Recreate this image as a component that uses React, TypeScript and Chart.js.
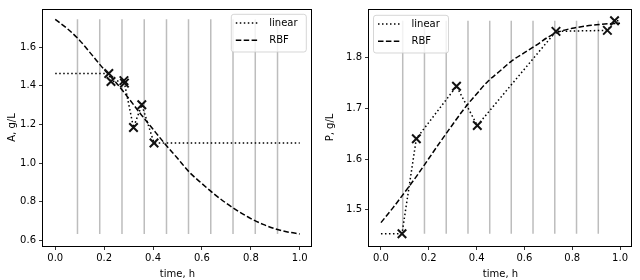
import React, { useEffect, useRef } from "react";
import { Chart, registerables } from "chart.js";

Chart.register(...registerables);
Chart.defaults.font.family = "'DejaVu Sans', sans-serif";
Chart.defaults.font.size = 10;
Chart.defaults.color = "#000";

// ---- shared data ----
const timeGrid = [0, 0.05, 0.1, 0.15, 0.2, 0.25, 0.3, 0.35, 0.4, 0.45, 0.5, 0.55, 0.6, 0.65, 0.7, 0.75, 0.8, 0.85, 0.9, 0.95, 1.0];
const knotTimes = [0.091, 0.182, 0.273, 0.364, 0.455, 0.545, 0.636, 0.727, 0.818, 0.909];
const xTicks = [0, 0.2, 0.4, 0.6, 0.8, 1.0];

// ---- panel A ----
const rbfA = [1.744, 1.695, 1.635, 1.56, 1.484, 1.415, 1.336, 1.253, 1.175, 1.098, 1.025, 0.951, 0.894, 0.84, 0.792, 0.75, 0.713, 0.683, 0.66, 0.644, 0.633];
const obsTimeA = [0.219, 0.228, 0.281, 0.283, 0.32, 0.354, 0.404];
const obsA = [1.464, 1.422, 1.427, 1.414, 1.184, 1.302, 1.104];
const knotRangeA = [0.633, 1.744];
const yTicksA = [0.6, 0.8, 1.0, 1.2, 1.4, 1.6];

// ---- panel P ----
const rbfP = [1.475, 1.504, 1.535, 1.567, 1.601, 1.635, 1.668, 1.7, 1.728, 1.754, 1.774, 1.794, 1.809, 1.824, 1.84, 1.851, 1.857, 1.861, 1.864, 1.866, 1.867];
const obsTimeP = [0.088, 0.148, 0.316, 0.403, 0.732, 0.947, 0.977];
const obsP = [1.453, 1.64, 1.743, 1.666, 1.851, 1.853, 1.872];
const knotRangeP = [1.453, 1.872];
const yTicksP = [1.5, 1.6, 1.7, 1.8];

const seriesLabels = ["linear", "RBF"];

type PanelProps = {
  rbf: number[];
  obsTime: number[];
  obs: number[];
  knotRange: number[];
  yTicks: number[];
  yMin: number;
  yMax: number;
  yLabel: string;
  yAxisWidth: number;
  yTitlePad: number;
  padTop: number;
  padRight: number;
  legendCorner: "left" | "right";
  legendDx: number;
  legendDy: number;
};

function Panel(p: PanelProps) {
  const ref = useRef<HTMLCanvasElement | null>(null);
  useEffect(() => {
    if (!ref.current) return;
    const obsPts = p.obsTime.map((t, i) => ({ x: t, y: p.obs[i] }));
    const linPts = [
      { x: timeGrid[0], y: p.obs[0] },
      ...obsPts,
      { x: timeGrid[timeGrid.length - 1], y: p.obs[p.obs.length - 1] },
    ];
    const rbfPts = timeGrid.map((t, i) => ({ x: t, y: p.rbf[i] }));
    const knotPts: { x: number; y: number | null }[] = [];
    knotTimes.forEach((t) => {
      knotPts.push({ x: t, y: p.knotRange[0] });
      knotPts.push({ x: t, y: p.knotRange[1] });
      knotPts.push({ x: t, y: null });
    });

    const framePlugin = {
      id: "frame",
      afterDatasetsDraw(chart: any) {
        const { ctx, chartArea: a } = chart;
        ctx.save();
        ctx.strokeStyle = "#000";
        ctx.lineWidth = 1;
        ctx.strokeRect(Math.round(a.left) - 0.5, Math.round(a.top) + 0.5, Math.round(a.right - a.left), Math.round(a.bottom - a.top));
        ctx.restore();
      },
    };

    const legendPlugin = {
      id: "mplLegend",
      afterDatasetsDraw(chart: any) {
        const { ctx, chartArea: a } = chart;
        const w = 75;
        const h = 37.7;
        const x0 = p.legendCorner === "right" ? a.right - p.legendDx - w : a.left + p.legendDx;
        const y0 = a.top + p.legendDy;
        ctx.save();
        ctx.beginPath();
        const r = 2.5;
        ctx.moveTo(x0 + r, y0);
        ctx.lineTo(x0 + w - r, y0);
        ctx.quadraticCurveTo(x0 + w, y0, x0 + w, y0 + r);
        ctx.lineTo(x0 + w, y0 + h - r);
        ctx.quadraticCurveTo(x0 + w, y0 + h, x0 + w - r, y0 + h);
        ctx.lineTo(x0 + r, y0 + h);
        ctx.quadraticCurveTo(x0, y0 + h, x0, y0 + h - r);
        ctx.lineTo(x0, y0 + r);
        ctx.quadraticCurveTo(x0, y0, x0 + r, y0);
        ctx.closePath();
        ctx.fillStyle = "rgba(255,255,255,0.8)";
        ctx.fill();
        ctx.strokeStyle = "rgba(204,204,204,0.8)";
        ctx.lineWidth = 1;
        ctx.stroke();
        const rows = [8.7, 26];
        seriesLabels.forEach((lab, i) => {
          const ds = chart.data.datasets.find((d: any) => d.label === lab);
          const y = y0 + rows[i];
          ctx.beginPath();
          ctx.setLineDash(ds.borderDash || []);
          ctx.lineWidth = 1.5;
          ctx.strokeStyle = "#000";
          ctx.moveTo(x0 + 4.5, y);
          ctx.lineTo(x0 + 27.5, y);
          ctx.stroke();
          ctx.setLineDash([]);
          ctx.fillStyle = "#000";
          ctx.font = "10px 'DejaVu Sans', sans-serif";
          ctx.textBaseline = "middle";
          ctx.textAlign = "left";
          ctx.fillText(lab, x0 + 38, y);
        });
        ctx.restore();
      },
    };

    const chart = new Chart(ref.current, {
      type: "line",
      data: {
        datasets: [
          {
            label: "obs",
            data: obsPts,
            showLine: false,
            pointStyle: "crossRot",
            pointRadius: 6,
            pointBorderWidth: 2,
            borderColor: "#111",
            backgroundColor: "#111",
          } as any,
          {
            label: "linear",
            data: linPts,
            borderColor: "#000",
            borderWidth: 1.5,
            borderDash: [1.5, 2.5],
            pointRadius: 0,
            tension: 0,
            fill: false,
          },
          {
            label: "RBF",
            data: rbfPts,
            borderColor: "#000",
            borderWidth: 1.5,
            borderDash: [5.5, 2.4],
            pointRadius: 0,
            cubicInterpolationMode: "monotone",
            fill: false,
          },
          {
            label: "knots",
            data: knotPts as any,
            borderColor: "#bdbdbd",
            borderWidth: 1.5,
            pointRadius: 0,
            spanGaps: false,
            fill: false,
          },
        ],
      },
      options: {
        animation: false,
        responsive: false,
        devicePixelRatio: 1,
        layout: { padding: { top: p.padTop, right: p.padRight, left: 0, bottom: 0 } },
        plugins: { legend: { display: false }, tooltip: { enabled: false } },
        scales: {
          x: {
            type: "linear",
            min: -0.05,
            max: 1.05,
            afterBuildTicks: (s: any) => {
              s.ticks = xTicks.map((v) => ({ value: v }));
            },
            afterFit: (s: any) => {
              s.height = 34;
            },
            ticks: {
              callback: (v: any) => Number(v).toFixed(1),
              color: "#000",
              font: { size: 10 },
              padding: 2,
              maxRotation: 0,
              autoSkip: false,
            },
            grid: { display: true, drawOnChartArea: false, drawTicks: true, tickLength: 4, color: "#000", lineWidth: 0.8 },
            border: { display: false },
            title: { display: true, text: "time, h", color: "#000", font: { size: 10 }, padding: { top: 0, bottom: 0 } },
          },
          y: {
            type: "linear",
            min: p.yMin,
            max: p.yMax,
            afterBuildTicks: (s: any) => {
              s.ticks = p.yTicks.map((v) => ({ value: v }));
            },
            afterFit: (s: any) => {
              s.width = p.yAxisWidth;
            },
            ticks: {
              callback: (v: any) => Number(v).toFixed(1),
              color: "#000",
              font: { size: 10 },
              padding: 3,
              autoSkip: false,
            },
            grid: { display: true, drawOnChartArea: false, drawTicks: true, tickLength: 4, color: "#000", lineWidth: 0.8 },
            border: { display: false },
            title: { display: true, text: p.yLabel, color: "#000", font: { size: 10 }, padding: { top: p.yTitlePad, bottom: 0 } },
          },
        },
      },
      plugins: [framePlugin, legendPlugin],
    });
    return () => chart.destroy();
  }, []);
  return <canvas ref={ref} width={320} height={280} style={{ display: "block", width: 320, height: 280 }} />;
}

export default function App() {
  return (
    <div style={{ position: "fixed", left: 0, top: 0, width: 640, height: 280, background: "#fff", display: "flex" }}>
      <Panel
        rbf={rbfA}
        obsTime={obsTimeA}
        obs={obsA}
        knotRange={knotRangeA}
        yTicks={yTicksA}
        yMin={0.571}
        yMax={1.7975}
        yLabel="A, g/L"
        yAxisWidth={43}
        yTitlePad={6}
        padTop={2}
        padRight={6}
        legendCorner="right"
        legendDx={5.7}
        legendDy={5.3}
      />
      <Panel
        rbf={rbfP}
        obsTime={obsTimeP}
        obs={obsP}
        knotRange={knotRangeP}
        yTicks={yTicksP}
        yMin={1.429}
        yMax={1.895}
        yLabel="P, g/L"
        yAxisWidth={49}
        yTitlePad={4}
        padTop={1}
        padRight={6}
        legendCorner="left"
        legendDx={4.5}
        legendDy={6.3}
      />
    </div>
  );
}
